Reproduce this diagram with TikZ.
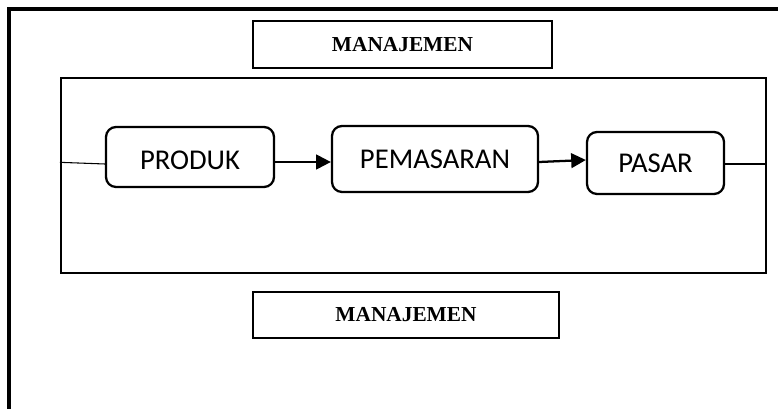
\documentclass[tikz,border=0pt]{standalone}
\usepackage{fontspec}
\setmainfont{Liberation Serif}
\newfontfamily\calibrifont{Carlito}
\usetikzlibrary{arrows.meta}
\begin{document}
\begin{tikzpicture}[x=0.75pt,y=-0.75pt,
  frame/.style={line width=2.8pt,line join=miter},
  mgmtbox/.style={draw,line width=1.7pt,rectangle,inner sep=0pt,
    font=\fontsize{16pt}{18pt}\selectfont\bfseries},
  panelbox/.style={draw,line width=1.7pt,rectangle,inner sep=0pt},
  stage/.style={draw,line width=1.7pt,rectangle,rounded corners=7.5pt,inner sep=0pt,
    font=\calibrifont\fontsize{21.5pt}{24pt}\selectfont},
  flow/.style={line width=1.7pt,-{Triangle[length=11pt,width=11pt]}},
  link/.style={line width=0.8pt}]
\useasboundingbox (0,0) rectangle (778,409);
\fill[white] (0,0) rectangle (778,409);

% outer frame: top and left edges
\coordinate (ftop) at (790,9);
\coordinate (fcorner) at (9,9);
\coordinate (fbottom) at (9,420);
\draw[frame] (ftop) -- (fcorner) -- (fbottom);

% management boxes
\node[mgmtbox,minimum width=299*0.75pt,minimum height=47*0.75pt] (mtop) at (402.5,44.5) {MANAJEMEN};
\node[mgmtbox,minimum width=306*0.75pt,minimum height=46*0.75pt] (mbot) at (406,315) {MANAJEMEN};

% inner panel
\node[panelbox,minimum width=705*0.75pt,minimum height=195*0.75pt] (panel) at (413.5,175.5) {};

% stages
\node[stage,minimum width=168*0.75pt,minimum height=60*0.75pt,text height=18.3pt,text depth=0pt] (produk) at (190,157) {PRODUK};
\node[stage,minimum width=206*0.75pt,minimum height=66*0.75pt] (pemasaran) at (435,159) {PEMASARAN};
\node[stage,minimum width=137*0.75pt,minimum height=62*0.75pt] (pasar) at (655.5,163) {PASAR};

% connectors
\draw[link] ([yshift=-4pt]panel.west |- produk.east) -- ([yshift=-5.25pt]produk.west);
\draw[flow] ([yshift=-3.75pt]produk.east) -- ([yshift=-2.25pt]pemasaran.west);
\draw[flow] ([yshift=-2.25pt]pemasaran.east) -- ([yshift=2.25pt]pasar.west);
\draw[link] ([yshift=-0.75pt]pasar.east) -- ([yshift=-0.75pt]pasar.east -| panel.east);
\end{tikzpicture}
\end{document}
